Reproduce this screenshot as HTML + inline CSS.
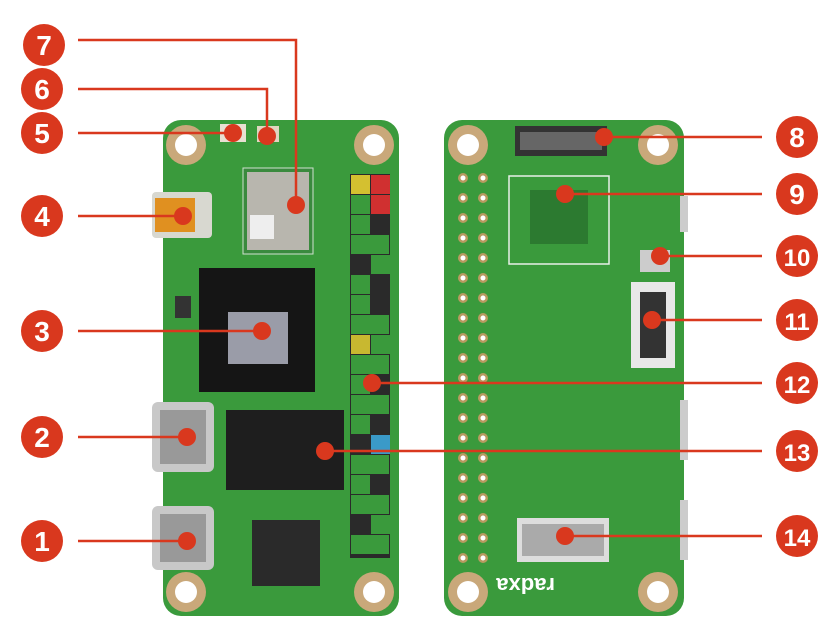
<!DOCTYPE html>
<html><head><meta charset="utf-8"><style>
html,body{margin:0;padding:0;background:#fff}
svg{display:block}
text{font-family:"Liberation Sans",sans-serif;font-weight:bold;fill:#fff}
</style></head><body>
<svg width="840" height="640" viewBox="0 0 840 640">
<defs>
<g id="hole"><circle r="20" fill="#c9a87a"/><circle r="11" fill="#fff"/></g>
<g id="pin"><rect x="-8" y="-8" width="16" height="16" fill="#2f8a35" stroke="#1e6a24" stroke-width="1"/><rect x="-3" y="-3" width="6" height="6" fill="#c8b070"/></g>
<g id="pad"><circle r="5" fill="#b89a60"/><circle r="2.5" fill="#fff"/></g>
</defs>
<!-- Left board -->
<rect x="163" y="120" width="236" height="496" rx="18" fill="#3a9a3c"/>
<use href="#hole" x="186" y="145"/><use href="#hole" x="374" y="145"/>
<use href="#hole" x="186" y="592"/><use href="#hole" x="374" y="592"/>
<rect x="220" y="124" width="26" height="18" fill="#e8e0d2"/>
<rect x="257" y="126" width="22" height="16" fill="#e0d6c0"/>
<rect x="243" y="168" width="70" height="86" fill="#3a8a3e" stroke="#d0e0d0"/>
<rect x="247" y="172" width="62" height="78" fill="#b8b6ae"/>
<rect x="250" y="215" width="24" height="24" fill="#eee"/>
<rect x="152" y="192" width="60" height="46" rx="4" fill="#d8d8d0"/>
<rect x="155" y="198" width="40" height="34" fill="#e09020"/>
<rect x="199" y="268" width="116" height="124" fill="#151515"/>
<rect x="228" y="312" width="60" height="52" fill="#9a9ca8"/>
<rect x="152" y="402" width="62" height="70" rx="6" fill="#c8c8c8"/>
<rect x="160" y="410" width="46" height="54" fill="#999"/>
<rect x="152" y="506" width="62" height="64" rx="6" fill="#c8c8c8"/>
<rect x="160" y="514" width="46" height="48" fill="#999"/>
<rect x="226" y="410" width="118" height="80" fill="#1e1e1e"/>
<rect x="252" y="520" width="68" height="66" fill="#2a2a2a"/>
<rect x="175" y="296" width="16" height="22" fill="#333"/>
<g>
<rect x="350" y="174" width="40" height="384" fill="#2a2a2a"/>
<rect x="351" y="175" width="19" height="19" fill="#d4c030"/><rect x="371" y="175" width="19" height="19" fill="#d03030"/>
<rect x="351" y="195" width="19" height="19" fill="#3a9a3c"/><rect x="371" y="195" width="19" height="19" fill="#d03030"/>
</g>
<g fill="#3a9a3c">
<rect x="351" y="215" width="19" height="19"/><rect x="351" y="235" width="38" height="19"/>
<rect x="371" y="255" width="19" height="19"/><rect x="351" y="275" width="19" height="19"/>
<rect x="351" y="295" width="19" height="19"/><rect x="351" y="315" width="38" height="19"/>
<rect x="371" y="335" width="19" height="19"/><rect x="351" y="355" width="38" height="19"/>
<rect x="351" y="375" width="19" height="19"/><rect x="351" y="395" width="38" height="19"/>
<rect x="351" y="415" width="19" height="19"/><rect x="351" y="455" width="38" height="19"/>
<rect x="351" y="475" width="19" height="19"/><rect x="351" y="495" width="38" height="19"/>
<rect x="371" y="515" width="19" height="19"/><rect x="351" y="535" width="38" height="19"/>
</g>
<rect x="351" y="335" width="19" height="19" fill="#c8b830"/>
<rect x="371" y="435" width="19" height="19" fill="#3a9ac8"/>
<!-- Right board -->
<rect x="444" y="120" width="240" height="496" rx="18" fill="#3a9a3c"/>
<use href="#hole" x="468" y="145"/><use href="#hole" x="658" y="145"/>
<use href="#hole" x="468" y="592"/><use href="#hole" x="658" y="592"/>
<rect x="515" y="126" width="92" height="30" fill="#333"/>
<rect x="520" y="132" width="82" height="18" fill="#666"/>
<rect x="509" y="176" width="100" height="88" fill="none" stroke="#e8f0e8" stroke-width="1.5"/>
<rect x="530" y="190" width="58" height="54" fill="#2c7a30"/>
<rect x="640" y="250" width="30" height="22" fill="#ccc"/>
<rect x="631" y="282" width="44" height="86" fill="#e8e8e8"/>
<rect x="640" y="292" width="26" height="66" fill="#333"/>
<rect x="517" y="518" width="92" height="44" fill="#ddd"/>
<rect x="522" y="524" width="82" height="32" fill="#aaa"/>
<rect x="680" y="196" width="8" height="36" fill="#ccc"/>
<rect x="680" y="400" width="8" height="60" fill="#ccc"/>
<rect x="680" y="500" width="8" height="60" fill="#ccc"/>
<g>
<use href="#pad" x="463" y="178"/><use href="#pad" x="463" y="198"/><use href="#pad" x="463" y="218"/><use href="#pad" x="463" y="238"/><use href="#pad" x="463" y="258"/><use href="#pad" x="463" y="278"/><use href="#pad" x="463" y="298"/><use href="#pad" x="463" y="318"/><use href="#pad" x="463" y="338"/><use href="#pad" x="463" y="358"/><use href="#pad" x="463" y="378"/><use href="#pad" x="463" y="398"/><use href="#pad" x="463" y="418"/><use href="#pad" x="463" y="438"/><use href="#pad" x="463" y="458"/><use href="#pad" x="463" y="478"/><use href="#pad" x="463" y="498"/><use href="#pad" x="463" y="518"/><use href="#pad" x="463" y="538"/><use href="#pad" x="463" y="558"/>
<use href="#pad" x="483" y="178"/><use href="#pad" x="483" y="198"/><use href="#pad" x="483" y="218"/><use href="#pad" x="483" y="238"/><use href="#pad" x="483" y="258"/><use href="#pad" x="483" y="278"/><use href="#pad" x="483" y="298"/><use href="#pad" x="483" y="318"/><use href="#pad" x="483" y="338"/><use href="#pad" x="483" y="358"/><use href="#pad" x="483" y="378"/><use href="#pad" x="483" y="398"/><use href="#pad" x="483" y="418"/><use href="#pad" x="483" y="438"/><use href="#pad" x="483" y="458"/><use href="#pad" x="483" y="478"/><use href="#pad" x="483" y="498"/><use href="#pad" x="483" y="518"/><use href="#pad" x="483" y="538"/><use href="#pad" x="483" y="558"/>
</g>
<text x="555" y="592" font-size="22" style="fill:#fff" transform="rotate(180 555 585)">radxa</text>
<!-- Leader lines -->
<g stroke="#d9381e" stroke-width="2.5" fill="none">
<polyline points="78,40 296,40 296,205"/>
<polyline points="78,89 267,89 267,134"/>
<line x1="78" y1="133" x2="233" y2="133"/>
<line x1="78" y1="216" x2="183" y2="216"/>
<line x1="78" y1="331" x2="262" y2="331"/>
<line x1="78" y1="437" x2="187" y2="437"/>
<line x1="78" y1="541" x2="187" y2="541"/>
<line x1="604" y1="137" x2="762" y2="137"/>
<line x1="565" y1="194" x2="762" y2="194"/>
<line x1="660" y1="256" x2="762" y2="256"/>
<line x1="652" y1="320" x2="762" y2="320"/>
<line x1="372" y1="383" x2="762" y2="383"/>
<line x1="325" y1="451" x2="762" y2="451"/>
<line x1="565" y1="536" x2="762" y2="536"/>
</g>
<g fill="#d9381e">
<circle cx="296" cy="205" r="9"/><circle cx="267" cy="136" r="9"/><circle cx="233" cy="133" r="9"/>
<circle cx="183" cy="216" r="9"/><circle cx="262" cy="331" r="9"/><circle cx="187" cy="437" r="9"/><circle cx="187" cy="541" r="9"/>
<circle cx="604" cy="137" r="9"/><circle cx="565" cy="194" r="9"/><circle cx="660" cy="256" r="9"/><circle cx="652" cy="320" r="9"/>
<circle cx="372" cy="383" r="9"/><circle cx="325" cy="451" r="9"/><circle cx="565" cy="536" r="9"/>
<circle cx="44" cy="45" r="21"/><circle cx="42" cy="89" r="21"/><circle cx="42" cy="133" r="21"/>
<circle cx="42" cy="216" r="21"/><circle cx="42" cy="331" r="21"/><circle cx="42" cy="437" r="21"/><circle cx="42" cy="541" r="21"/>
<circle cx="797" cy="137" r="21"/><circle cx="797" cy="194" r="21"/><circle cx="797" cy="256" r="21"/><circle cx="797" cy="320" r="21"/>
<circle cx="797" cy="383" r="21"/><circle cx="797" cy="451" r="21"/><circle cx="797" cy="536" r="21"/>
</g>
<g font-size="28" text-anchor="middle">
<text x="44" y="55">7</text><text x="42" y="99">6</text><text x="42" y="143">5</text>
<text x="42" y="226">4</text><text x="42" y="341">3</text><text x="42" y="447">2</text><text x="42" y="551">1</text>
<text x="797" y="147">8</text><text x="797" y="204">9</text><text x="797" y="266" font-size="24">10</text><text x="797" y="330" font-size="24">11</text>
<text x="797" y="393" font-size="24">12</text><text x="797" y="461" font-size="24">13</text><text x="797" y="546" font-size="24">14</text>
</g>
</svg>
</body></html>
